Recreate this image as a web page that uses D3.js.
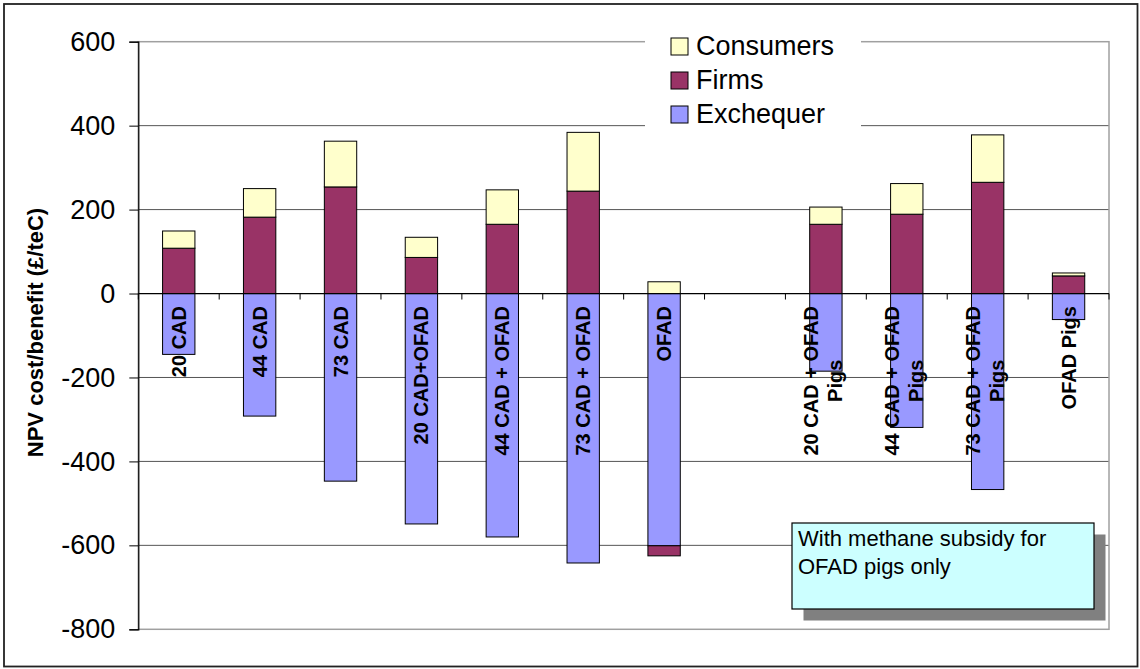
<!DOCTYPE html>
<html>
<head>
<meta charset="utf-8">
<script src="https://cdn.jsdelivr.net/npm/d3@7"></script>
<style>
  html, body { margin: 0; padding: 0; background: #fff; }
  svg { display: block; font-family: "Liberation Sans", Arial, sans-serif; }
</style>
</head>
<body>
<svg id="chart" width="1140" height="669"></svg>
<script>
// Scenario categories (an empty slot separates the pig-subsidy group)
const categories = [
  "20 CAD", "44 CAD", "73 CAD", "20 CAD+OFAD", "44 CAD + OFAD", "73 CAD + OFAD", "OFAD",
  "",
  "20 CAD + OFAD\nPigs", "44 CAD + OFAD\nPigs", "73 CAD + OFAD\nPigs", "OFAD Pigs"
];
// NPV cost/benefit by party (£/teC)
const exchequer = [-145, -292, -447, -549, -580, -642, -601, null, -185, -319, -467, -62];
const firms     = [ 108,  182,  254,   86,  165,  244,  -24, null,  165,  189,  265,  42];
const consumers = [  41,   68,  109,   48,   82,  140,   28, null,   41,   73,  113,   7];

const seriesNames = ["Exchequer", "Firms", "Consumers"];
const seriesValues = [exchequer, firms, consumers];
const seriesColors = ["#9999FF", "#993366", "#FFFFCC"];
const yTicks = [600, 400, 200, 0, -200, -400, -600, -800];
const noteLines = ["With methane subsidy for", "OFAD pigs only"];
const axisTitle = "NPV cost/benefit (£/teC)";

const svg = d3.select("#chart");
const plot = { left: 138.3, right: 1109, top: 41.7, bottom: 629.3 };

const y = d3.scaleLinear().domain([-800, 600]).range([plot.bottom, plot.top]);
const x = d3.scaleBand()
  .domain(categories.map((c, i) => i))
  .range([plot.left, plot.right])
  .paddingInner(0.6)
  .paddingOuter(0.3);

// Outer chart frame
svg.append("rect")
  .attr("x", 4).attr("y", 4).attr("width", 1133.5).attr("height", 662.5)
  .attr("fill", "#fff").attr("stroke", "#222").attr("stroke-width", 1.8);

// Gridlines
svg.append("g").selectAll("line")
  .data(yTicks.filter(t => t !== 0 && t !== 600 && t !== -800))
  .join("line")
  .attr("x1", plot.left).attr("x2", plot.right)
  .attr("y1", d => y(d)).attr("y2", d => y(d))
  .attr("stroke", "#555").attr("stroke-width", 1);

// Plot area border
svg.append("rect")
  .attr("x", plot.left).attr("y", plot.top)
  .attr("width", plot.right - plot.left).attr("height", plot.bottom - plot.top)
  .attr("fill", "none").attr("stroke", "#a0a0a0").attr("stroke-width", 1.5);

// Stacked bars (negative values stack downward)
const rows = categories.map((c, i) => {
  const r = { idx: i };
  seriesNames.forEach((s, k) => { r[s] = seriesValues[k][i] ?? 0; });
  return r;
});
const stacked = d3.stack().keys(seriesNames).offset(d3.stackOffsetDiverging)(rows);

svg.append("g").selectAll("g")
  .data(stacked)
  .join("g")
  .attr("fill", (d, k) => seriesColors[k])
  .selectAll("rect")
  .data(d => d.filter(p => p[1] !== p[0]))
  .join("rect")
  .attr("x", p => x(p.data.idx))
  .attr("width", x.bandwidth())
  .attr("y", p => y(Math.max(p[0], p[1])))
  .attr("height", p => Math.abs(y(p[0]) - y(p[1])))
  .attr("stroke", "#000").attr("stroke-width", 1);

// Y axis
const yAxis = svg.append("g")
  .attr("transform", `translate(${plot.left},0)`)
  .call(d3.axisLeft(y).tickValues(yTicks).tickSize(9).tickPadding(14).tickFormat(d3.format("d")));
yAxis.select(".domain").attr("stroke", "#000").attr("stroke-width", 1.2);
yAxis.selectAll(".tick line").attr("stroke", "#000");
yAxis.selectAll(".tick text")
  .attr("font-size", 27).attr("fill", "#000")
  .attr("font-family", "Liberation Sans, Arial, sans-serif")
  .text(d => d < 0 ? "-" + Math.abs(d) : d);

// Zero axis with category tick marks
svg.append("line")
  .attr("x1", plot.left).attr("x2", plot.right)
  .attr("y1", y(0)).attr("y2", y(0))
  .attr("stroke", "#000").attr("stroke-width", 1.2);
const step = x.step();
svg.append("g").selectAll("line")
  .data(d3.range(categories.length + 1))
  .join("line")
  .attr("x1", i => plot.left + i * step).attr("x2", i => plot.left + i * step)
  .attr("y1", y(0)).attr("y2", y(0) + 6)
  .attr("stroke", "#000").attr("stroke-width", 1);

// Rotated category labels hanging below the zero line
const labelG = svg.append("g").attr("font-size", 20).attr("font-weight", "bold").attr("fill", "#000");
categories.forEach((c, i) => {
  if (!c) return;
  const lines = c.split("\n");
  const cx = x(i) + x.bandwidth() / 2;
  const g = labelG.append("g").attr("transform", `translate(${cx},${y(0) + 12.5}) rotate(-90)`);
  const texts = lines.map((ln, j) =>
    g.append("text")
      .attr("text-anchor", "middle")
      .attr("y", 7 - 15 * (lines.length - 1) + 24 * j)
      .text(ln)
  );
  const maxW = d3.max(texts, t => t.node().getComputedTextLength());
  texts.forEach(t => t.attr("x", -maxW / 2));
});

// Y axis title
svg.append("text")
  .attr("transform", `translate(43,${(plot.top + plot.bottom) / 2 - 3}) rotate(-90)`)
  .attr("text-anchor", "middle")
  .attr("font-size", 22).attr("font-weight", "bold")
  .text(axisTitle);

// Legend
const legend = svg.append("g");
legend.append("rect")
  .attr("x", 645).attr("y", 27).attr("width", 216).attr("height", 106)
  .attr("fill", "#fff");
const legendOrder = [2, 1, 0];
legendOrder.forEach((k, j) => {
  const cy = 46.5 + j * 34;
  legend.append("rect")
    .attr("x", 671).attr("y", cy - 8.5).attr("width", 17).attr("height", 17)
    .attr("fill", seriesColors[k]).attr("stroke", "#000").attr("stroke-width", 1);
  legend.append("text")
    .attr("x", 696).attr("y", cy + 8.5)
    .attr("font-size", 27)
    .text(seriesNames[k]);
});

// Annotation box with drop shadow
const note = svg.append("g");
note.append("rect")
  .attr("x", 803.5).attr("y", 534.5).attr("width", 302).attr("height", 86)
  .attr("fill", "#808080");
note.append("rect")
  .attr("x", 792).attr("y", 523).attr("width", 302).attr("height", 86)
  .attr("fill", "#CCFFFF").attr("stroke", "#000").attr("stroke-width", 1.2);
noteLines.forEach((ln, j) => {
  note.append("text")
    .attr("x", 798).attr("y", 546 + j * 28)
    .attr("font-size", 22)
    .text(ln);
});
</script>
</body>
</html>
